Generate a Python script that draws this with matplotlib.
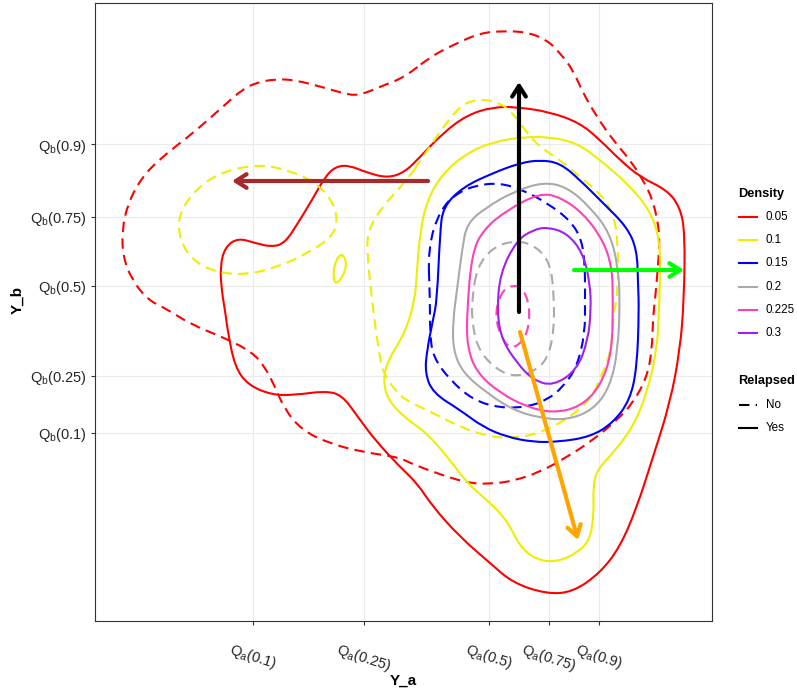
import matplotlib.pyplot as plt
import numpy as np
from matplotlib.lines import Line2D
from matplotlib.patches import PathPatch
from matplotlib.path import Path

plt.rcParams['font.family'] = ['Liberation Sans', 'DejaVu Sans']
plt.rcParams['mathtext.fontset'] = 'custom'
plt.rcParams['mathtext.rm'] = 'Liberation Sans'

# tick positions on both axes (quantiles of Y_a and Y_b)
x_ticks = [1.58, 2.69, 3.94, 4.54, 5.04]
x_labels = ['0.1', '0.25', '0.5', '0.75', '0.9']
y_ticks = [4.77, 4.04, 3.35, 2.45, 1.88]
y_labels = ['0.9', '0.75', '0.5', '0.25', '0.1']

levels = ['0.05', '0.1', '0.15', '0.2', '0.225', '0.3']
level_colors = ['#ff0000', '#eeee00', '#0000ff', '#aaaaaa', '#ff40b8', '#a020f0']

# density contours, Relapsed = No (dashed)
no_005 = [(3.10, 5.44), (2.87, 5.35), (2.63, 5.25), (2.47, 5.28), (2.27, 5.34), (2.00, 5.41),
          (1.80, 5.42), (1.60, 5.38), (1.47, 5.31), (1.33, 5.19), (1.13, 5.01), (0.93, 4.84),
          (0.67, 4.64), (0.47, 4.44), (0.33, 4.18), (0.27, 3.91), (0.28, 3.64), (0.37, 3.41),
          (0.53, 3.21), (0.70, 3.13), (0.97, 2.96), (1.30, 2.83), (1.57, 2.69), (1.70, 2.54),
          (1.80, 2.34), (1.90, 2.11), (2.07, 1.91), (2.33, 1.78), (2.67, 1.69), (3.03, 1.64),
          (3.13, 1.59), (3.38, 1.49), (3.72, 1.38), (3.95, 1.37), (4.18, 1.40), (4.45, 1.49),
          (4.72, 1.64), (4.98, 1.81), (5.22, 2.01), (5.38, 2.18), (5.52, 2.44), (5.57, 2.71),
          (5.58, 3.04), (5.60, 3.21), (5.63, 3.54), (5.65, 3.88), (5.58, 4.21), (5.48, 4.41),
          (5.35, 4.61), (5.18, 4.81), (5.02, 5.04), (4.88, 5.28), (4.78, 5.51), (4.65, 5.68),
          (4.52, 5.81), (4.32, 5.89), (4.08, 5.90), (3.85, 5.88), (3.58, 5.76), (3.35, 5.64)]
no_01_left = [(1.63, 4.57), (1.93, 4.51), (2.20, 4.39), (2.37, 4.21), (2.43, 4.01), (2.37, 3.84),
              (2.13, 3.68), (1.83, 3.54), (1.50, 3.46), (1.20, 3.49), (0.97, 3.61), (0.85, 3.81),
              (0.83, 4.04), (0.97, 4.28), (1.23, 4.48)]
no_01 = [(3.12, 4.41), (2.87, 4.14), (2.73, 3.91), (2.72, 3.68), (2.77, 3.21), (2.83, 2.74),
         (2.88, 2.48), (3.00, 2.31), (3.10, 2.21), (3.32, 2.11), (3.65, 1.94), (3.95, 1.84),
         (4.22, 1.83), (4.48, 1.89), (4.75, 2.04), (4.95, 2.21), (5.08, 2.48), (5.17, 2.74),
         (5.18, 3.04), (5.23, 3.28), (5.23, 3.81), (5.18, 4.08), (5.05, 4.28), (4.85, 4.44),
         (4.65, 4.61), (4.45, 4.74), (4.32, 4.88), (4.18, 5.08), (4.05, 5.18), (3.88, 5.22),
         (3.68, 5.18), (3.48, 4.94), (3.28, 4.64)]
no_015 = [(3.33, 3.74), (3.45, 4.11), (3.62, 4.28), (3.82, 4.36), (4.05, 4.38), (4.28, 4.31),
          (4.52, 4.18), (4.75, 4.01), (4.87, 3.81), (4.90, 3.54), (4.90, 3.21), (4.90, 2.88),
          (4.82, 2.54), (4.68, 2.34), (4.52, 2.21), (4.32, 2.14), (4.05, 2.13), (3.78, 2.21),
          (3.55, 2.41), (3.38, 2.64), (3.35, 2.88), (3.35, 3.21)]
no_02 = [(3.82, 3.54), (3.98, 3.74), (4.22, 3.81), (4.42, 3.74), (4.55, 3.58), (4.59, 3.28),
         (4.59, 2.88), (4.52, 2.61), (4.38, 2.49), (4.18, 2.44), (3.98, 2.54), (3.82, 2.74),
         (3.77, 3.01), (3.77, 3.21)]
no_0225 = [(4.08, 3.31), (4.18, 3.36), (4.28, 3.33), (4.35, 3.14), (4.33, 2.88), (4.22, 2.74),
           (4.12, 2.74), (4.02, 2.94), (4.01, 3.14)]

# density contours, Relapsed = Yes (solid)
yes_005 = [(3.10, 4.49), (2.93, 4.43), (2.73, 4.48), (2.53, 4.56), (2.40, 4.54), (2.30, 4.44),
           (2.17, 4.21), (2.03, 3.98), (1.90, 3.78), (1.77, 3.74), (1.60, 3.78), (1.43, 3.83),
           (1.30, 3.74), (1.25, 3.54), (1.27, 3.28), (1.30, 3.11), (1.33, 2.88), (1.40, 2.54),
           (1.53, 2.36), (1.77, 2.26), (2.00, 2.26), (2.30, 2.30), (2.47, 2.26), (2.63, 2.04),
           (2.80, 1.81), (3.05, 1.54), (3.22, 1.38), (3.38, 1.14), (3.65, 0.84), (3.95, 0.58),
           (4.18, 0.38), (4.52, 0.27), (4.78, 0.29), (5.05, 0.48), (5.25, 0.74), (5.42, 1.14),
           (5.58, 1.64), (5.75, 2.18), (5.85, 2.71), (5.89, 3.21), (5.90, 3.88), (5.85, 4.14),
           (5.72, 4.31), (5.45, 4.44), (5.25, 4.61), (5.05, 4.81), (4.85, 4.98), (4.55, 5.09),
           (4.22, 5.14), (3.98, 5.14), (3.72, 5.06), (3.48, 4.88), (3.25, 4.64)]
yes_01_island = [(2.47, 3.68), (2.52, 3.58), (2.48, 3.44), (2.40, 3.36), (2.38, 3.48), (2.41, 3.61)]
yes_01 = [(3.25, 3.88), (3.32, 4.21), (3.48, 4.48), (3.72, 4.68), (3.98, 4.79), (4.28, 4.84),
          (4.55, 4.84), (4.82, 4.78), (5.05, 4.61), (5.32, 4.38), (5.55, 4.11), (5.65, 3.81),
          (5.65, 3.38), (5.64, 3.11), (5.62, 2.71), (5.52, 2.28), (5.38, 1.94), (5.18, 1.68),
          (5.02, 1.51), (4.98, 1.34), (4.99, 1.08), (4.95, 0.81), (4.82, 0.68), (4.62, 0.59),
          (4.42, 0.61), (4.25, 0.74), (4.12, 1.01), (3.92, 1.21), (3.72, 1.38), (3.55, 1.61),
          (3.32, 1.88), (3.10, 2.03), (2.93, 2.21), (2.88, 2.41), (2.93, 2.61), (3.10, 2.88),
          (3.20, 3.21), (3.22, 3.51)]
yes_015 = [(3.45, 3.88), (3.48, 4.14), (3.68, 4.34), (3.98, 4.48), (4.25, 4.58), (4.45, 4.61),
           (4.65, 4.58), (4.85, 4.41), (5.08, 4.18), (5.32, 3.94), (5.42, 3.71), (5.43, 3.38),
           (5.44, 3.11), (5.42, 2.54), (5.35, 2.21), (5.18, 1.98), (4.95, 1.84), (4.62, 1.79),
           (4.38, 1.79), (4.12, 1.84), (3.88, 1.94), (3.65, 2.11), (3.38, 2.28), (3.30, 2.48),
           (3.32, 2.71), (3.38, 3.01), (3.42, 3.21)]
yes_02 = [(3.67, 3.71), (3.72, 3.98), (3.92, 4.14), (4.18, 4.29), (4.48, 4.39), (4.72, 4.34),
          (4.95, 4.14), (5.15, 3.88), (5.23, 3.54), (5.25, 3.21), (5.23, 2.71), (5.15, 2.34),
          (4.98, 2.11), (4.72, 2.01), (4.45, 2.03), (4.18, 2.11), (3.92, 2.28), (3.68, 2.48),
          (3.58, 2.71), (3.58, 3.01), (3.62, 3.31)]
yes_0225 = [(3.77, 3.68), (3.88, 3.91), (4.12, 4.11), (4.45, 4.28), (4.65, 4.24), (4.88, 4.08),
            (5.08, 3.81), (5.17, 3.54), (5.18, 3.21), (5.17, 2.68), (5.05, 2.34), (4.85, 2.14),
            (4.58, 2.08), (4.32, 2.14), (4.05, 2.28), (3.82, 2.48), (3.72, 2.74), (3.72, 3.11)]
yes_03 = [(4.05, 3.48), (4.22, 3.81), (4.38, 3.91), (4.52, 3.94), (4.72, 3.88), (4.88, 3.68),
          (4.95, 3.38), (4.96, 3.11), (4.93, 2.81), (4.82, 2.51), (4.58, 2.35), (4.38, 2.41),
          (4.22, 2.58), (4.07, 2.81), (4.02, 3.08)]

# arrows: (start, end, colour)
arrow_start = [(4.24, 3.09), (3.33, 4.40), (4.79, 3.51), (4.25, 2.89)]
arrow_end = [(4.24, 5.39), (1.37, 4.40), (5.89, 3.51), (4.83, 0.81)]
arrow_colors = ['black', '#a52a2a', '#00ff00', '#ffa500']


def smooth_closed(pts):
    # quadratic curve through the mid points, traced points act as controls
    p = np.asarray(pts)
    mids = (p + np.roll(p, -1, axis=0)) / 2
    verts = [mids[-1]]
    codes = [Path.MOVETO]
    for i in range(len(p)):
        verts += [p[i], mids[i]]
        codes += [Path.CURVE3, Path.CURVE3]
    return Path(verts, codes)


DASH = (0, (5, 3))
TEXT_COL = '#262626'

fig = plt.figure(figsize=(7.97, 6.93), dpi=100)
ax = fig.add_axes([95 / 797, 72 / 693, 617 / 797, 618 / 693])

contours = [
    (no_005, '0.05', DASH), (yes_005, '0.05', '-'),
    (no_01_left, '0.1', DASH), (no_01, '0.1', DASH),
    (yes_01, '0.1', '-'), (yes_01_island, '0.1', '-'),
    (no_015, '0.15', DASH), (yes_015, '0.15', '-'),
    (no_02, '0.2', DASH), (yes_02, '0.2', '-'),
    (no_0225, '0.225', DASH), (yes_0225, '0.225', '-'),
    (yes_03, '0.3', '-'),
]
for pts, lev, ls in contours:
    col = level_colors[levels.index(lev)]
    ax.add_patch(PathPatch(smooth_closed(pts), fill=False, edgecolor=col,
                           linewidth=1.5, linestyle=ls, zorder=2))

for s, e, c in zip(arrow_start, arrow_end, arrow_colors):
    ax.annotate('', xy=e, xytext=s, zorder=4,
                arrowprops=dict(arrowstyle='->,head_length=0.55,head_width=0.35',
                                mutation_scale=14, lw=3, color=c,
                                shrinkA=0, shrinkB=0))

ax.set_xlim(0, 6.17)
ax.set_ylim(0, 6.18)
ax.set_xticks(x_ticks)
ax.set_xticklabels([r'$\mathregular{Q_a}$(' + t + ')' for t in x_labels],
                   rotation=-18, ha='center', va='top')
ax.set_yticks(y_ticks)
ax.set_yticklabels([r'$\mathregular{Q_b}$(' + t + ')' for t in y_labels])
ax.tick_params(axis='both', length=3, width=0.8, color='#333333',
               labelcolor=TEXT_COL, labelsize=10.5)
ax.tick_params(axis='x', pad=11)
ax.tick_params(axis='y', pad=3)
ax.grid(True, color='#ebebeb', linewidth=0.8, zorder=0)
ax.set_axisbelow(True)
for sp in ax.spines.values():
    sp.set_color('#333333')
    sp.set_linewidth(0.8)

ax.set_xlabel('Y_a', fontsize=11, fontweight='bold')
ax.set_ylabel('Y_b', fontsize=11, fontweight='bold')
ax.xaxis.set_label_coords(0.5, -0.085)
ax.yaxis.set_label_coords(-0.115, 0.52)


# legends drawn in figure pixels
def fx(px):
    return px / 797


def fy(py):
    return 1 - py / 693


fig.text(fx(738), fy(194), 'Density', fontsize=9.2, fontweight='bold', va='center')
for i, (lev, col) in enumerate(zip(levels, level_colors)):
    y = 217 + i * 23.2
    fig.add_artist(Line2D([fx(739), fx(757)], [fy(y), fy(y)], color=col, lw=1.5,
                          transform=fig.transFigure))
    fig.text(fx(766), fy(y), lev, fontsize=8.4, va='center')

fig.text(fx(738), fy(381), 'Relapsed', fontsize=9.2, fontweight='bold', va='center')
for y, lab, ls in [(405, 'No', DASH), (428, 'Yes', '-')]:
    fig.add_artist(Line2D([fx(739), fx(757)], [fy(y), fy(y)], color='black', lw=1.5,
                          linestyle=ls, transform=fig.transFigure))
    fig.text(fx(766), fy(y), lab, fontsize=8.4, va='center')

fig.savefig('out.png', dpi=100)
